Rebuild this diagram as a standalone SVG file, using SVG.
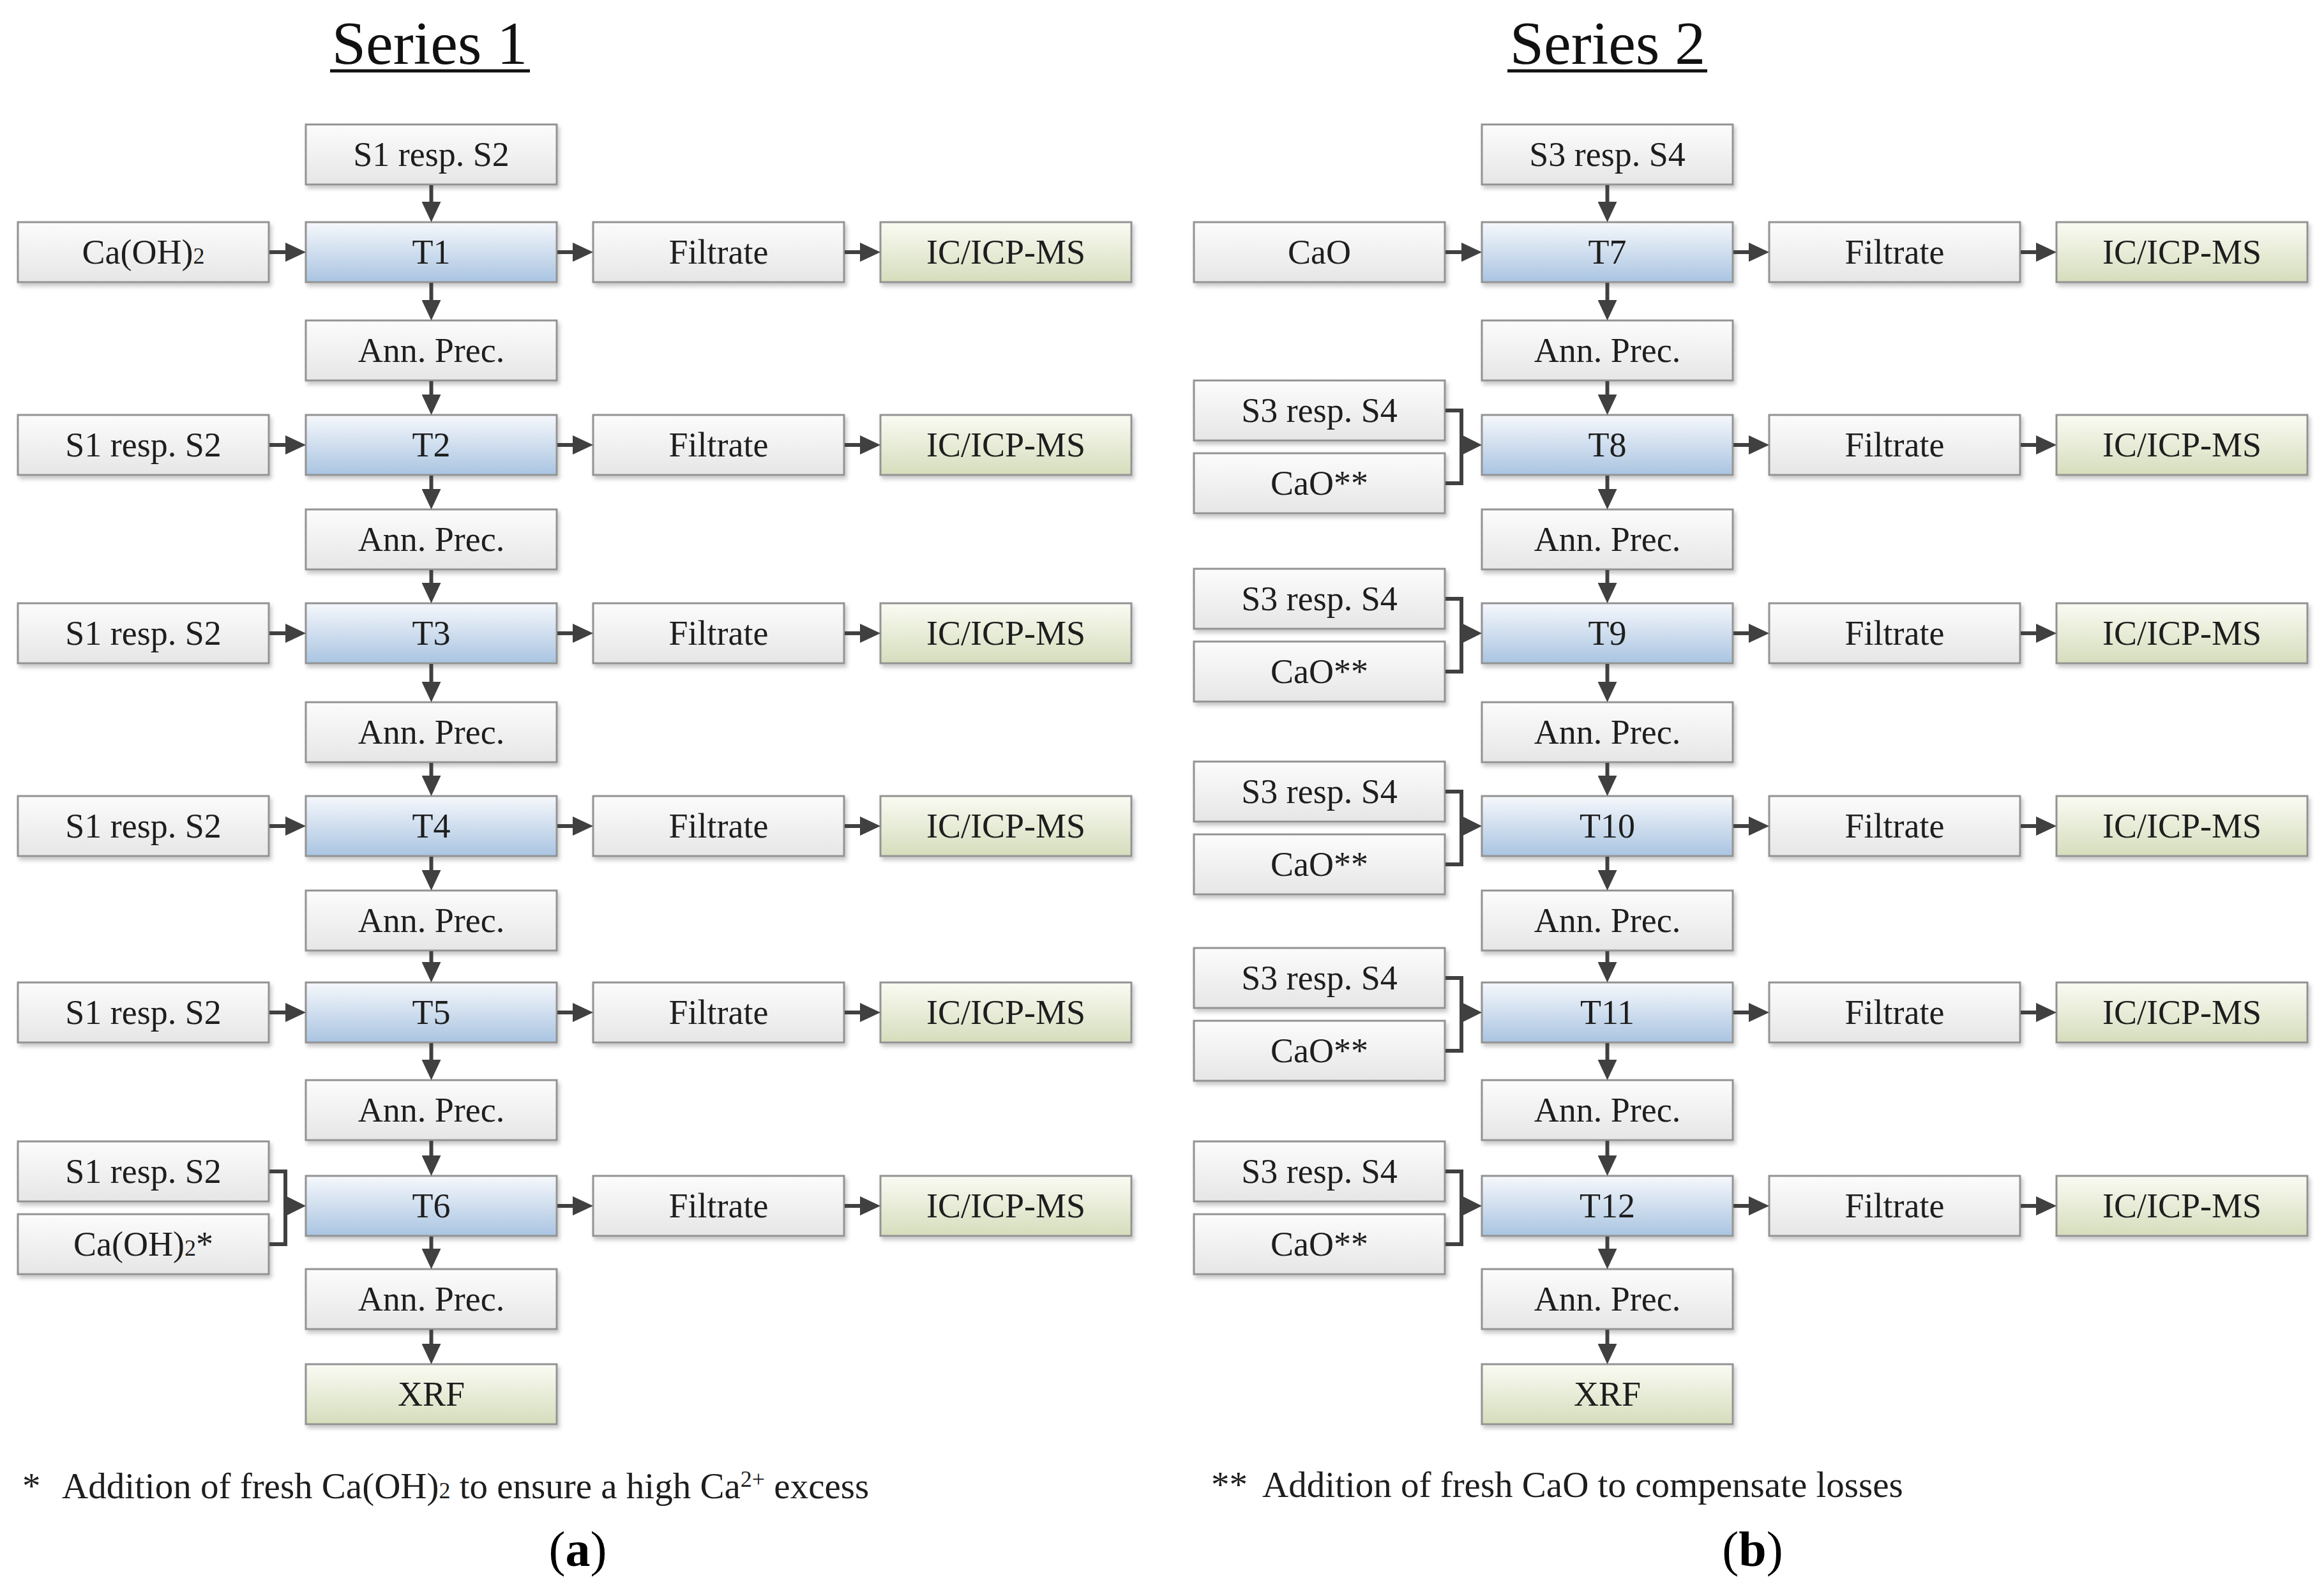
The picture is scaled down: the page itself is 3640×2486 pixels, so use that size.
<svg xmlns="http://www.w3.org/2000/svg" width="3640" height="2486" viewBox="0 0 3640 2486">
<defs>
<linearGradient id="gGray" x1="0" y1="0" x2="0" y2="1"><stop offset="0" stop-color="#fcfcfc"/><stop offset="1" stop-color="#e6e6e6"/></linearGradient>
<linearGradient id="gBlue" x1="0" y1="0" x2="0" y2="1"><stop offset="0" stop-color="#f6f8fc"/><stop offset="1" stop-color="#a9c4e1"/></linearGradient>
<linearGradient id="gGreen" x1="0" y1="0" x2="0" y2="1"><stop offset="0" stop-color="#fafbf3"/><stop offset="1" stop-color="#d5ddbc"/></linearGradient>
<filter id="sh" x="-5%" y="-20%" width="115%" height="150%"><feDropShadow dx="3" dy="5" stdDeviation="3" flood-color="#000" flood-opacity="0.22"/></filter>
<marker id="ah" markerUnits="userSpaceOnUse" markerWidth="32" markerHeight="30" refX="0" refY="15" orient="auto"><path d="M0,0 L32,15 L0,30 Z" fill="#404040"/></marker>
</defs>
<style>
.bx{stroke:#939393;stroke-width:3;filter:url(#sh)}
.g{fill:url(#gGray)}.b{fill:url(#gBlue)}.gr{fill:url(#gGreen)}
.t{font-family:"Liberation Serif",serif;font-size:54px;fill:#1e1e1e;text-anchor:middle}
.s{font-size:36px}
.ttl{font-family:"Liberation Serif",serif;font-size:96px;fill:#111;text-anchor:middle}
.fn{font-family:"Liberation Serif",serif;font-size:57px;fill:#1e1e1e}
.cap{font-family:"Liberation Serif",serif;font-size:78px;fill:#000;text-anchor:middle}
.cn line,.cn path{stroke:#404040;stroke-width:6;fill:none}
.cn line{marker-end:url(#ah)}
.cn polygon{fill:#404040}
</style>
<rect width="3640" height="2486" fill="#fff"/>

<g id="titles">
<text class="ttl" x="673" y="100">Series 1</text>
<line x1="517" y1="111" x2="830" y2="111" stroke="#111" stroke-width="5"/>
<text class="ttl" x="2518" y="100">Series 2</text>
<line x1="2361" y1="111" x2="2674" y2="111" stroke="#111" stroke-width="5"/>
</g>

<!-- Series 1 nodes -->
<g id="s1-in0"><rect class="bx g" x="479" y="195" width="393" height="94"/><text class="t" x="675.5" y="260">S1 resp. S2</text></g>
<g id="s1-caoh"><rect class="bx g" x="28" y="348" width="393" height="94"/><text class="t" x="224.5" y="413">Ca(OH)<tspan class="s">2</tspan></text></g>
<g id="T1"><rect class="bx b" x="479" y="348" width="393" height="94"/><text class="t" x="675.5" y="413">T1</text></g>
<g id="s1-f1"><rect class="bx g" x="929" y="348" width="393" height="94"/><text class="t" x="1125.5" y="413">Filtrate</text></g>
<g id="s1-ic1"><rect class="bx gr" x="1379" y="348" width="393" height="94"/><text class="t" x="1575.5" y="413">IC/ICP-MS</text></g>
<g id="s1-ann1"><rect class="bx g" x="479" y="502" width="393" height="94"/><text class="t" x="675.5" y="567">Ann. Prec.</text></g>

<g id="s1-in2"><rect class="bx g" x="28" y="650" width="393" height="94"/><text class="t" x="224.5" y="715">S1 resp. S2</text></g>
<g id="T2"><rect class="bx b" x="479" y="650" width="393" height="94"/><text class="t" x="675.5" y="715">T2</text></g>
<g id="s1-f2"><rect class="bx g" x="929" y="650" width="393" height="94"/><text class="t" x="1125.5" y="715">Filtrate</text></g>
<g id="s1-ic2"><rect class="bx gr" x="1379" y="650" width="393" height="94"/><text class="t" x="1575.5" y="715">IC/ICP-MS</text></g>
<g id="s1-ann2"><rect class="bx g" x="479" y="798" width="393" height="94"/><text class="t" x="675.5" y="863">Ann. Prec.</text></g>

<g id="s1-in3"><rect class="bx g" x="28" y="945" width="393" height="94"/><text class="t" x="224.5" y="1010">S1 resp. S2</text></g>
<g id="T3"><rect class="bx b" x="479" y="945" width="393" height="94"/><text class="t" x="675.5" y="1010">T3</text></g>
<g id="s1-f3"><rect class="bx g" x="929" y="945" width="393" height="94"/><text class="t" x="1125.5" y="1010">Filtrate</text></g>
<g id="s1-ic3"><rect class="bx gr" x="1379" y="945" width="393" height="94"/><text class="t" x="1575.5" y="1010">IC/ICP-MS</text></g>
<g id="s1-ann3"><rect class="bx g" x="479" y="1100" width="393" height="94"/><text class="t" x="675.5" y="1165">Ann. Prec.</text></g>

<g id="s1-in4"><rect class="bx g" x="28" y="1247" width="393" height="94"/><text class="t" x="224.5" y="1312">S1 resp. S2</text></g>
<g id="T4"><rect class="bx b" x="479" y="1247" width="393" height="94"/><text class="t" x="675.5" y="1312">T4</text></g>
<g id="s1-f4"><rect class="bx g" x="929" y="1247" width="393" height="94"/><text class="t" x="1125.5" y="1312">Filtrate</text></g>
<g id="s1-ic4"><rect class="bx gr" x="1379" y="1247" width="393" height="94"/><text class="t" x="1575.5" y="1312">IC/ICP-MS</text></g>
<g id="s1-ann4"><rect class="bx g" x="479" y="1395" width="393" height="94"/><text class="t" x="675.5" y="1460">Ann. Prec.</text></g>

<g id="s1-in5"><rect class="bx g" x="28" y="1539" width="393" height="94"/><text class="t" x="224.5" y="1604">S1 resp. S2</text></g>
<g id="T5"><rect class="bx b" x="479" y="1539" width="393" height="94"/><text class="t" x="675.5" y="1604">T5</text></g>
<g id="s1-f5"><rect class="bx g" x="929" y="1539" width="393" height="94"/><text class="t" x="1125.5" y="1604">Filtrate</text></g>
<g id="s1-ic5"><rect class="bx gr" x="1379" y="1539" width="393" height="94"/><text class="t" x="1575.5" y="1604">IC/ICP-MS</text></g>
<g id="s1-ann5"><rect class="bx g" x="479" y="1692" width="393" height="94"/><text class="t" x="675.5" y="1757">Ann. Prec.</text></g>

<g id="s1-in6a"><rect class="bx g" x="28" y="1788" width="393" height="94"/><text class="t" x="224.5" y="1853">S1 resp. S2</text></g>
<g id="s1-in6b"><rect class="bx g" x="28" y="1902" width="393" height="94"/><text class="t" x="224.5" y="1967">Ca(OH)<tspan class="s">2</tspan>*</text></g>
<g id="T6"><rect class="bx b" x="479" y="1842" width="393" height="94"/><text class="t" x="675.5" y="1907">T6</text></g>
<g id="s1-f6"><rect class="bx g" x="929" y="1842" width="393" height="94"/><text class="t" x="1125.5" y="1907">Filtrate</text></g>
<g id="s1-ic6"><rect class="bx gr" x="1379" y="1842" width="393" height="94"/><text class="t" x="1575.5" y="1907">IC/ICP-MS</text></g>
<g id="s1-ann6"><rect class="bx g" x="479" y="1988" width="393" height="94"/><text class="t" x="675.5" y="2053">Ann. Prec.</text></g>
<g id="s1-xrf"><rect class="bx gr" x="479" y="2137" width="393" height="94"/><text class="t" x="675.5" y="2202">XRF</text></g>

<!-- Series 2 nodes -->
<g id="s2-in0"><rect class="bx g" x="2321" y="195" width="393" height="94"/><text class="t" x="2517.5" y="260">S3 resp. S4</text></g>
<g id="s2-cao"><rect class="bx g" x="1870" y="348" width="393" height="94"/><text class="t" x="2066.5" y="413">CaO</text></g>
<g id="T7"><rect class="bx b" x="2321" y="348" width="393" height="94"/><text class="t" x="2517.5" y="413">T7</text></g>
<g id="s2-f7"><rect class="bx g" x="2771" y="348" width="393" height="94"/><text class="t" x="2967.5" y="413">Filtrate</text></g>
<g id="s2-ic7"><rect class="bx gr" x="3221" y="348" width="393" height="94"/><text class="t" x="3417.5" y="413">IC/ICP-MS</text></g>
<g id="s2-ann7"><rect class="bx g" x="2321" y="502" width="393" height="94"/><text class="t" x="2517.5" y="567">Ann. Prec.</text></g>

<g id="s2-in8a"><rect class="bx g" x="1870" y="596" width="393" height="94"/><text class="t" x="2066.5" y="661">S3 resp. S4</text></g>
<g id="s2-in8b"><rect class="bx g" x="1870" y="710" width="393" height="94"/><text class="t" x="2066.5" y="775">CaO**</text></g>
<g id="T8"><rect class="bx b" x="2321" y="650" width="393" height="94"/><text class="t" x="2517.5" y="715">T8</text></g>
<g id="s2-f8"><rect class="bx g" x="2771" y="650" width="393" height="94"/><text class="t" x="2967.5" y="715">Filtrate</text></g>
<g id="s2-ic8"><rect class="bx gr" x="3221" y="650" width="393" height="94"/><text class="t" x="3417.5" y="715">IC/ICP-MS</text></g>
<g id="s2-ann8"><rect class="bx g" x="2321" y="798" width="393" height="94"/><text class="t" x="2517.5" y="863">Ann. Prec.</text></g>

<g id="s2-in9a"><rect class="bx g" x="1870" y="891" width="393" height="94"/><text class="t" x="2066.5" y="956">S3 resp. S4</text></g>
<g id="s2-in9b"><rect class="bx g" x="1870" y="1005" width="393" height="94"/><text class="t" x="2066.5" y="1070">CaO**</text></g>
<g id="T9"><rect class="bx b" x="2321" y="945" width="393" height="94"/><text class="t" x="2517.5" y="1010">T9</text></g>
<g id="s2-f9"><rect class="bx g" x="2771" y="945" width="393" height="94"/><text class="t" x="2967.5" y="1010">Filtrate</text></g>
<g id="s2-ic9"><rect class="bx gr" x="3221" y="945" width="393" height="94"/><text class="t" x="3417.5" y="1010">IC/ICP-MS</text></g>
<g id="s2-ann9"><rect class="bx g" x="2321" y="1100" width="393" height="94"/><text class="t" x="2517.5" y="1165">Ann. Prec.</text></g>

<g id="s2-in10a"><rect class="bx g" x="1870" y="1193" width="393" height="94"/><text class="t" x="2066.5" y="1258">S3 resp. S4</text></g>
<g id="s2-in10b"><rect class="bx g" x="1870" y="1307" width="393" height="94"/><text class="t" x="2066.5" y="1372">CaO**</text></g>
<g id="T10"><rect class="bx b" x="2321" y="1247" width="393" height="94"/><text class="t" x="2517.5" y="1312">T10</text></g>
<g id="s2-f10"><rect class="bx g" x="2771" y="1247" width="393" height="94"/><text class="t" x="2967.5" y="1312">Filtrate</text></g>
<g id="s2-ic10"><rect class="bx gr" x="3221" y="1247" width="393" height="94"/><text class="t" x="3417.5" y="1312">IC/ICP-MS</text></g>
<g id="s2-ann10"><rect class="bx g" x="2321" y="1395" width="393" height="94"/><text class="t" x="2517.5" y="1460">Ann. Prec.</text></g>

<g id="s2-in11a"><rect class="bx g" x="1870" y="1485" width="393" height="94"/><text class="t" x="2066.5" y="1550">S3 resp. S4</text></g>
<g id="s2-in11b"><rect class="bx g" x="1870" y="1599" width="393" height="94"/><text class="t" x="2066.5" y="1664">CaO**</text></g>
<g id="T11"><rect class="bx b" x="2321" y="1539" width="393" height="94"/><text class="t" x="2517.5" y="1604">T11</text></g>
<g id="s2-f11"><rect class="bx g" x="2771" y="1539" width="393" height="94"/><text class="t" x="2967.5" y="1604">Filtrate</text></g>
<g id="s2-ic11"><rect class="bx gr" x="3221" y="1539" width="393" height="94"/><text class="t" x="3417.5" y="1604">IC/ICP-MS</text></g>
<g id="s2-ann11"><rect class="bx g" x="2321" y="1692" width="393" height="94"/><text class="t" x="2517.5" y="1757">Ann. Prec.</text></g>

<g id="s2-in12a"><rect class="bx g" x="1870" y="1788" width="393" height="94"/><text class="t" x="2066.5" y="1853">S3 resp. S4</text></g>
<g id="s2-in12b"><rect class="bx g" x="1870" y="1902" width="393" height="94"/><text class="t" x="2066.5" y="1967">CaO**</text></g>
<g id="T12"><rect class="bx b" x="2321" y="1842" width="393" height="94"/><text class="t" x="2517.5" y="1907">T12</text></g>
<g id="s2-f12"><rect class="bx g" x="2771" y="1842" width="393" height="94"/><text class="t" x="2967.5" y="1907">Filtrate</text></g>
<g id="s2-ic12"><rect class="bx gr" x="3221" y="1842" width="393" height="94"/><text class="t" x="3417.5" y="1907">IC/ICP-MS</text></g>
<g id="s2-ann12"><rect class="bx g" x="2321" y="1988" width="393" height="94"/><text class="t" x="2517.5" y="2053">Ann. Prec.</text></g>
<g id="s2-xrf"><rect class="bx gr" x="2321" y="2137" width="393" height="94"/><text class="t" x="2517.5" y="2202">XRF</text></g>

<g id="connectors" class="cn">
<!-- Series 1 vertical -->
<line x1="675.5" y1="290" x2="675.5" y2="316"/>
<line x1="675.5" y1="443" x2="675.5" y2="470"/>
<line x1="675.5" y1="597" x2="675.5" y2="618"/>
<line x1="675.5" y1="745" x2="675.5" y2="766"/>
<line x1="675.5" y1="893" x2="675.5" y2="913"/>
<line x1="675.5" y1="1040" x2="675.5" y2="1068"/>
<line x1="675.5" y1="1195" x2="675.5" y2="1215"/>
<line x1="675.5" y1="1342" x2="675.5" y2="1363"/>
<line x1="675.5" y1="1490" x2="675.5" y2="1507"/>
<line x1="675.5" y1="1634" x2="675.5" y2="1660"/>
<line x1="675.5" y1="1787" x2="675.5" y2="1810"/>
<line x1="675.5" y1="1937" x2="675.5" y2="1956"/>
<line x1="675.5" y1="2083" x2="675.5" y2="2105"/>
<!-- Series 1 horizontal -->
<line x1="422" y1="395" x2="447" y2="395"/>
<line x1="873" y1="395" x2="897" y2="395"/>
<line x1="1323" y1="395" x2="1347" y2="395"/>
<line x1="422" y1="697" x2="447" y2="697"/>
<line x1="873" y1="697" x2="897" y2="697"/>
<line x1="1323" y1="697" x2="1347" y2="697"/>
<line x1="422" y1="992" x2="447" y2="992"/>
<line x1="873" y1="992" x2="897" y2="992"/>
<line x1="1323" y1="992" x2="1347" y2="992"/>
<line x1="422" y1="1294" x2="447" y2="1294"/>
<line x1="873" y1="1294" x2="897" y2="1294"/>
<line x1="1323" y1="1294" x2="1347" y2="1294"/>
<line x1="422" y1="1586" x2="447" y2="1586"/>
<line x1="873" y1="1586" x2="897" y2="1586"/>
<line x1="1323" y1="1586" x2="1347" y2="1586"/>
<line x1="873" y1="1889" x2="897" y2="1889"/>
<line x1="1323" y1="1889" x2="1347" y2="1889"/>
<path d="M422,1835 H447 V1949 H422"/>
<polygon points="445,1872 479,1889 445,1906"/>
<!-- Series 2 vertical -->
<line x1="2517.5" y1="290" x2="2517.5" y2="316"/>
<line x1="2517.5" y1="443" x2="2517.5" y2="470"/>
<line x1="2517.5" y1="597" x2="2517.5" y2="618"/>
<line x1="2517.5" y1="745" x2="2517.5" y2="766"/>
<line x1="2517.5" y1="893" x2="2517.5" y2="913"/>
<line x1="2517.5" y1="1040" x2="2517.5" y2="1068"/>
<line x1="2517.5" y1="1195" x2="2517.5" y2="1215"/>
<line x1="2517.5" y1="1342" x2="2517.5" y2="1363"/>
<line x1="2517.5" y1="1490" x2="2517.5" y2="1507"/>
<line x1="2517.5" y1="1634" x2="2517.5" y2="1660"/>
<line x1="2517.5" y1="1787" x2="2517.5" y2="1810"/>
<line x1="2517.5" y1="1937" x2="2517.5" y2="1956"/>
<line x1="2517.5" y1="2083" x2="2517.5" y2="2105"/>
<!-- Series 2 horizontal -->
<line x1="2264" y1="395" x2="2289" y2="395"/>
<line x1="2715" y1="395" x2="2739" y2="395"/>
<line x1="3165" y1="395" x2="3189" y2="395"/>
<line x1="2715" y1="697" x2="2739" y2="697"/>
<line x1="3165" y1="697" x2="3189" y2="697"/>
<line x1="2715" y1="992" x2="2739" y2="992"/>
<line x1="3165" y1="992" x2="3189" y2="992"/>
<line x1="2715" y1="1294" x2="2739" y2="1294"/>
<line x1="3165" y1="1294" x2="3189" y2="1294"/>
<line x1="2715" y1="1586" x2="2739" y2="1586"/>
<line x1="3165" y1="1586" x2="3189" y2="1586"/>
<line x1="2715" y1="1889" x2="2739" y2="1889"/>
<line x1="3165" y1="1889" x2="3189" y2="1889"/>
<path d="M2264,643 H2289 V757 H2264"/>
<polygon points="2287,680 2321,697 2287,714"/>
<path d="M2264,938 H2289 V1052 H2264"/>
<polygon points="2287,975 2321,992 2287,1009"/>
<path d="M2264,1240 H2289 V1354 H2264"/>
<polygon points="2287,1277 2321,1294 2287,1311"/>
<path d="M2264,1532 H2289 V1646 H2264"/>
<polygon points="2287,1569 2321,1586 2287,1603"/>
<path d="M2264,1835 H2289 V1949 H2264"/>
<polygon points="2287,1872 2321,1889 2287,1906"/>
</g>

<g id="footnotes">
<text class="fn" x="35" y="2347">*</text>
<text class="fn" x="97" y="2347">Addition of fresh Ca(OH)<tspan font-size="36">2</tspan> to ensure a high Ca<tspan font-size="36" dy="-18">2+</tspan><tspan dy="18"> excess</tspan></text>
<text class="fn" x="1897" y="2345">**</text>
<text class="fn" x="1977" y="2345">Addition of fresh CaO to compensate losses</text>
<text class="cap" x="905" y="2453">(<tspan font-weight="bold">a</tspan>)</text>
<text class="cap" x="2745" y="2453">(<tspan font-weight="bold">b</tspan>)</text>
</g>
</svg>
